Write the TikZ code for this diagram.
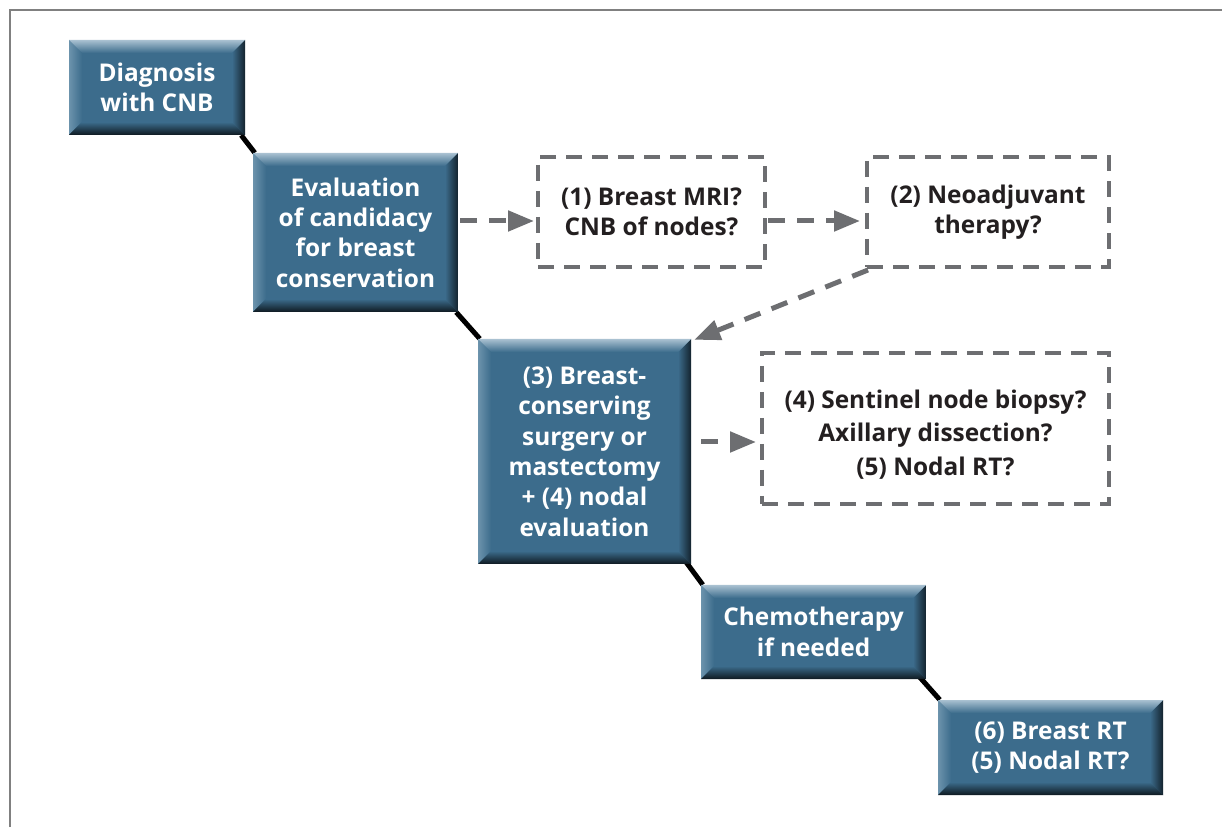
\documentclass[tikz,border=0pt]{standalone}
\usepackage{fontspec}
\setmainfont{Open Sans}
\usetikzlibrary{arrows.meta,calc,backgrounds}
\definecolor{boxmain}{HTML}{3C6C8C}
\definecolor{boxtop}{HTML}{A9C1D1}
\definecolor{boxleft}{HTML}{6C93AC}
\definecolor{boxright}{HTML}{14232E}
\definecolor{boxbot}{HTML}{0E1920}
\definecolor{dashgray}{HTML}{6D6E71}
\definecolor{txtblack}{HTML}{231F20}
\definecolor{framegray}{HTML}{808080}
\newcommand{\bvw}{13pt}
\tikzset{
  x=1pt, y=1pt,
  boxfont/.style={font=\bfseries\fontsize{24.4pt}{30.4pt}\selectfont},
  dfont/.style={font=\bfseries\fontsize{24.4pt}{30pt}\selectfont},
  dfontwide/.style={font=\bfseries\fontsize{24.4pt}{33.5pt}\selectfont},
  bevelbox/.style={rectangle, fill=boxmain, inner sep=0pt, text=white, align=center, boxfont,
    path picture={
      \coordinate (pNW) at (path picture bounding box.north west);
      \coordinate (pNE) at (path picture bounding box.north east);
      \coordinate (pSW) at (path picture bounding box.south west);
      \coordinate (pSE) at (path picture bounding box.south east);
      \shade[left color=boxleft, right color=boxmain] (pNW) -- ($(pNW)+(\bvw,-\bvw)$) -- ($(pSW)+(\bvw,\bvw)$) -- (pSW) -- cycle;
      \shade[left color=boxmain, right color=boxright] (pNE) -- ($(pNE)+(-\bvw,-\bvw)$) -- ($(pSE)+(-\bvw,\bvw)$) -- (pSE) -- cycle;
      \shade[top color=boxtop, bottom color=boxmain] (pNW) -- (pNE) -- ($(pNE)+(-\bvw,-\bvw)$) -- ($(pNW)+(\bvw,-\bvw)$) -- cycle;
      \shade[top color=boxmain, bottom color=boxbot] (pSW) -- (pSE) -- ($(pSE)+(-\bvw,\bvw)$) -- ($(pSW)+(\bvw,\bvw)$) -- cycle;
    }},
  dashbox/.style={rectangle, draw=dashgray, line width=4pt, dash pattern=on 16pt off 10pt,
    inner sep=0pt, text=txtblack, align=center, dfont},
  link/.style={line width=5pt, black},
  dasharrow/.style={line width=5pt, draw=dashgray, dash pattern=on 17pt off 12pt,
    -{Triangle[length=26pt,width=20pt,fill=dashgray]}},
  framestyle/.style={line width=2pt, draw=framegray}
}
\begin{document}
\begin{tikzpicture}
\useasboundingbox (0,0) rectangle (1222,827);
\coordinate (frTL) at (10,817);
\coordinate (frTR) at (1222,817);
\coordinate (frBL) at (10,0);

\node[bevelbox, minimum width=176pt, minimum height=95pt] (b1) at (157,739.5) {Diagnosis\\with CNB};
\node[bevelbox, minimum width=205pt, minimum height=159pt] (b2) at (355.5,594.5) {Evaluation\\of candidacy\\for breast\\conservation};
\node[bevelbox, minimum width=213pt, minimum height=225pt] (b3) at (584.5,375.5) {(3) Breast-\\conserving\\surgery or\\mastectomy\\+ (4) nodal\\evaluation};
\node[bevelbox, minimum width=225pt, minimum height=94pt] (b4) at (813.5,195) {Chemotherapy\\if needed};
\node[bevelbox, minimum width=225pt, minimum height=95pt] (b5) at (1050.5,79.5) {(6) Breast RT\\(5) Nodal RT?};

\node[dashbox, minimum width=227pt, minimum height=110pt] (d1) at (651.5,615) {(1) Breast MRI?\\CNB of nodes?};
\node[dashbox, minimum width=242pt, minimum height=110pt] (d2) at (988,615) {(2) Neoadjuvant\\therapy?};
\node[dashbox, dfontwide, minimum width=347pt, minimum height=151pt] (d3) at (935.5,398.5) {\rule{0pt}{30pt}(4) Sentinel node biopsy?\\Axillary dissection?\\(5) Nodal RT?};

\begin{scope}[on background layer]
\fill[white] (0,0) rectangle (1222,827);
\draw[framestyle] (frBL) -- (frTL) -- (frTR);
\draw[link] ([xshift=-4pt]b1.south east) -- ([xshift=2pt]b2.north west);
\draw[link] ([xshift=-2pt]b2.south east) -- ([xshift=2pt]b3.north west);
\draw[link] ([xshift=-8pt,yshift=6pt]b3.south east) -- ([xshift=2pt]b4.north west);
\draw[link] ([xshift=-10pt,yshift=6pt]b4.south east) -- ([xshift=2pt]b5.north west);
\end{scope}

\draw[dasharrow] ([xshift=2pt,yshift=11.5pt]b2.east) -- ([xshift=-2pt,yshift=-9pt]d1.west);
\draw[dasharrow] ([xshift=1pt,yshift=-9pt]d1.east) -- ([xshift=-5pt,yshift=-9pt]d2.west);
\draw[dasharrow] ([xshift=3pt,yshift=-1pt]d2.south west) -- ([xshift=3pt,yshift=-1pt]b3.north east);
\draw[dasharrow] ([xshift=10pt,yshift=9.5pt]b3.east) -- ([xshift=-4pt,yshift=-13.5pt]d3.west);
\end{tikzpicture}
\end{document}
